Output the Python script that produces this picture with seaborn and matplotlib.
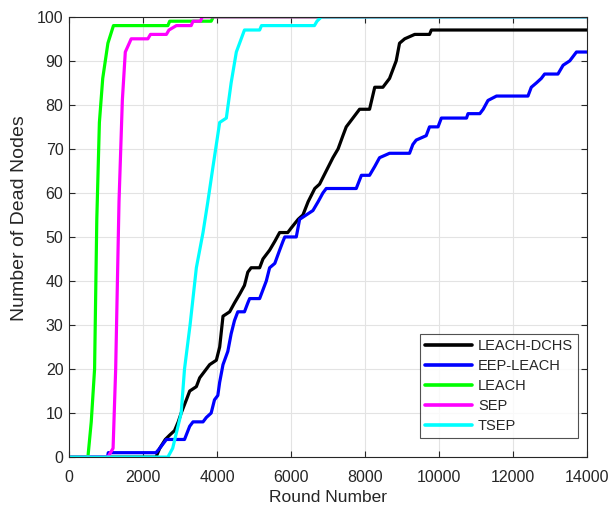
import numpy as np
import pandas as pd
import matplotlib
matplotlib.use("Agg")
import matplotlib.pyplot as plt
import seaborn as sns

# values (round number, number of dead nodes)
dchs_rounds = [0, 2350, 2450, 2600, 2720, 2850, 2950, 3030, 3170, 3260, 3440, 3530,
               3710, 3800, 3980, 4070, 4160, 4340, 4470, 4610, 4740, 4830, 4920,
               5150, 5240, 5420, 5560, 5690, 5910, 6000, 6190, 6320, 6460, 6640,
               6770, 6950, 7130, 7270, 7400, 7490, 7670, 7850, 8120, 8260, 8480,
               8660, 8840, 8930, 9070, 9340, 9740, 9790, 14000]
dchs_dead = [0, 0, 2, 4, 5, 6, 8, 10, 13, 15, 16, 18,
             20, 21, 22, 25, 32, 33, 35, 37, 39, 42, 43,
             43, 45, 47, 49, 51, 51, 52, 54, 55, 58, 61,
             62, 65, 68, 70, 73, 75, 77, 79, 79, 84, 84,
             86, 90, 94, 95, 96, 96, 97, 97]

eep_rounds = [0, 1040, 1060, 2350, 2450, 2630, 3120, 3260, 3350, 3620, 3710, 3840,
              3930, 4020, 4070, 4160, 4290, 4380, 4470, 4560, 4740, 4830, 4880,
              5150, 5240, 5330, 5420, 5560, 5690, 5780, 5830, 6140, 6230, 6410,
              6590, 6730, 6860, 6950, 7760, 7900, 8120, 8260, 8390, 8660, 9200,
              9290, 9380, 9650, 9740, 9970, 10060, 10740, 10780, 11100, 11190,
              11320, 11550, 12400, 12490, 12630, 12760, 12850, 13210, 13350,
              13530, 13710, 14000]
eep_dead = [0, 0, 1, 1, 2, 4, 4, 7, 8, 8, 9, 10,
            13, 14, 17, 21, 24, 28, 31, 33, 33, 35, 36,
            36, 38, 40, 43, 44, 47, 49, 50, 50, 54, 55,
            56, 58, 60, 61, 61, 64, 64, 66, 68, 69, 69,
            71, 72, 73, 75, 75, 77, 77, 78, 78, 79,
            81, 82, 82, 84, 85, 86, 87, 87, 89,
            90, 92, 92]

leach_rounds = [0, 510, 600, 690, 750, 820, 910, 1050, 1200, 2670, 2720, 3840, 3900, 14000]
leach_dead = [0, 0, 8, 20, 54, 76, 86, 94, 98, 98, 99, 99, 100, 100]

sep_rounds = [0, 1050, 1190, 1260, 1350, 1440, 1520, 1680, 2130, 2200, 2630, 2700,
              2900, 3300, 3350, 3550, 3600, 14000]
sep_dead = [0, 0, 2, 20, 58, 81, 92, 95, 95, 96, 96, 97,
            98, 98, 99, 99, 100, 100]

tsep_rounds = [0, 2670, 2800, 3030, 3120, 3270, 3440, 3620, 3750, 3890, 4070, 4250,
               4380, 4520, 4740, 5150, 5200, 6630, 6700, 6820, 14000]
tsep_dead = [0, 0, 2, 10, 20, 30, 43, 51, 58, 66, 76, 77,
             85, 92, 97, 97, 98, 98, 99, 100, 100]

series = ["LEACH-DCHS", "EEP-LEACH", "LEACH", "SEP", "TSEP"]
colors = ["#000000", "#0000ff", "#00ff00", "#ff00ff", "#00ffff"]

frames = []
for name, r, d in zip(series,
                      [dchs_rounds, eep_rounds, leach_rounds, sep_rounds, tsep_rounds],
                      [dchs_dead, eep_dead, leach_dead, sep_dead, tsep_dead]):
    frames.append(pd.DataFrame({"Round Number": r, "Number of Dead Nodes": d, "Protocol": name}))
df = pd.concat(frames, ignore_index=True)

sns.set_style("whitegrid")
plt.rcParams["font.family"] = ["Liberation Sans", "DejaVu Sans"]

fig = plt.figure(figsize=(6.11, 5.09), dpi=100)
ax = fig.add_axes([0.113, 0.102, 0.848, 0.865])

sns.lineplot(data=df, x="Round Number", y="Number of Dead Nodes", hue="Protocol",
             hue_order=series, palette=colors, estimator=None, sort=True,
             linewidth=2.3, ax=ax)

ax.set_xlim(0, 14000)
ax.set_ylim(0, 100)
ax.set_xticks(np.arange(0, 14001, 2000))
ax.set_yticks(np.arange(0, 101, 10))
ax.grid(True, color="#e3e3e3", linewidth=0.8)
ax.set_axisbelow(True)
for spine in ax.spines.values():
    spine.set_visible(True)
    spine.set_color("#262626")
    spine.set_linewidth(0.8)
ax.tick_params(axis="both", which="both", direction="in", length=4, color="#262626",
               labelsize=11.5, labelcolor="#262626", top=True, right=True, bottom=True, left=True)
ax.tick_params(axis="x", pad=9)
ax.tick_params(axis="y", pad=4)
ax.set_xlabel("Round Number", fontsize=12.5, color="#262626", labelpad=4)
ax.set_ylabel("Number of Dead Nodes", fontsize=14, color="#262626")
ax.yaxis.set_label_coords(-0.08, 0.543)

legend = ax.legend(loc="lower right", bbox_to_anchor=(1 - 9 / 518, 19 / 440),
                   borderaxespad=0, frameon=True, fancybox=False, edgecolor="#262626",
                   fontsize=10.5, handlelength=3.2, handletextpad=0.4,
                   labelspacing=0.41, borderpad=0.35, title=None)
legend.get_frame().set_linewidth(0.8)
for line in legend.get_lines():
    line.set_linewidth(2.6)

fig.savefig("out.png", dpi=100)
